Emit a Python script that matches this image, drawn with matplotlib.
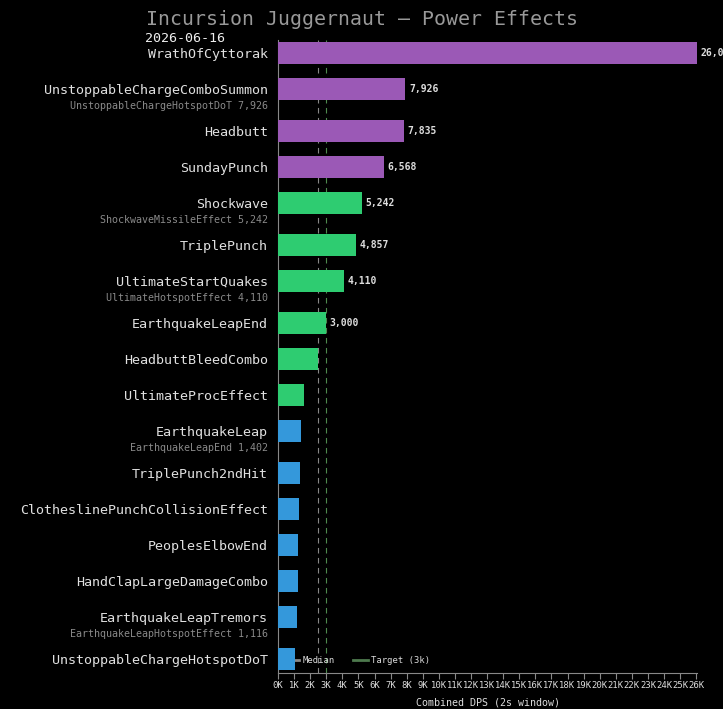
import numpy as np
import matplotlib
matplotlib.use('Agg')
import matplotlib.pyplot as plt
from matplotlib.lines import Line2D

plt.rcParams['font.family'] = ['DejaVu Sans Mono']

names = ["WrathOfCyttorak", "UnstoppableChargeComboSummon", "Headbutt", "SundayPunch",
         "Shockwave", "TriplePunch", "UltimateStartQuakes", "EarthquakeLeapEnd",
         "HeadbuttBleedCombo", "UltimateProcEffect", "EarthquakeLeap", "TriplePunch2ndHit",
         "ClotheslinePunchCollisionEffect", "PeoplesElbowEnd", "HandClapLargeDamageCombo",
         "EarthquakeLeapTremors", "UnstoppableChargeHotspotDoT"]
values = [26050, 7926, 7835, 6568, 5242, 4857, 4110, 3000, 2480, 1610, 1430, 1360,
          1300, 1240, 1220, 1180, 1050]
groups = ["purple"] * 4 + ["green"] * 6 + ["blue"] * 7
sublabels = {1: "UnstoppableChargeHotspotDoT 7,926",
             4: "ShockwaveMissileEffect 5,242",
             6: "UltimateHotspotEffect 4,110",
             10: "EarthquakeLeapEnd 1,402",
             15: "EarthquakeLeapHotspotEffect 1,116"}
target = 3000
label_min = 3000

palette = {"purple": "#9b59b6", "green": "#2ecc71", "blue": "#3498db"}

# row positions: rows carrying a sub-label get a bit more room
ypos = []
y = 0.0
for i in range(len(names)):
    ypos.append(y)
    y += 1.0 + (1 / 6 if i in sublabels else 0)

fig = plt.figure(figsize=(7.23, 7.09), dpi=100, facecolor='black')
ax = fig.add_axes([278 / 723, 36 / 709, 419 / 723, 633 / 709])
ax.set_facecolor('black')

ax.barh(ypos, values, height=0.61, color=[palette[g] for g in groups], zorder=3)

med = np.median(values)
ax.axvline(med, color='#888888', lw=0.8, ls=(0, (5, 4)), zorder=1)
ax.axvline(target, color='#4e8a4e', lw=0.8, ls=(0, (5, 4)), zorder=1)

for yy, v in zip(ypos, values):
    if v >= label_min:
        ax.annotate(f"{v:,}", (v, yy), xytext=(2.5, 0), textcoords='offset points',
                    va='center', ha='left', fontsize=7, color='#dddddd',
                    fontweight='bold', annotation_clip=False)

for i, txt in sublabels.items():
    ax.annotate(txt, (0, ypos[i]), xycoords=('axes fraction', 'data'),
                xytext=(-7.2, -12), textcoords='offset points',
                ha='right', va='center', fontsize=7.2, color='#8a8a8a')

ax.set_yticks(ypos)
ax.set_yticklabels(names, fontsize=9.6, color='#e0e0e0')
ax.tick_params(axis='y', length=0, pad=7.2)
ax.set_ylim(ypos[-1] + 0.385, -0.36)

ax.set_xlim(0, 26050)
ax.set_xticks(np.arange(0, 27000, 1000))
ax.set_xticklabels([f"{k}K" for k in range(27)], fontsize=6.4, color='#dddddd')
ax.tick_params(axis='x', colors='#888888', labelcolor='#dddddd', length=4, pad=2)
ax.set_xlabel("Combined DPS (2s window)", fontsize=7.2, color='#dddddd', labelpad=5)

for s in ['top', 'right']:
    ax.spines[s].set_visible(False)
for s in ['left', 'bottom']:
    ax.spines[s].set_color('#888888')

handles = [Line2D([], [], color='#888888', lw=2),
           Line2D([], [], color='#4e7a4e', lw=2)]
leg = ax.legend(handles, ["Median", "Target (3k)"], loc='lower left',
                bbox_to_anchor=(-0.004, 0.0), ncol=2, frameon=False, fontsize=6.4,
                handlelength=1.7, handletextpad=0.35, columnspacing=2.0)
leg.set_zorder(2)
for t in leg.get_texts():
    t.set_color('#dddddd')

fig.text(0.5, 0.972, "Incursion Juggernaut — Power Effects", ha='center', va='center',
         fontsize=14.3, color='#999999')
fig.text(145 / 723, 0.946, "2026-06-16", ha='left', va='center', fontsize=9.6,
         color='#eeeeee')

fig.savefig('out.png', dpi=100, facecolor='black')
